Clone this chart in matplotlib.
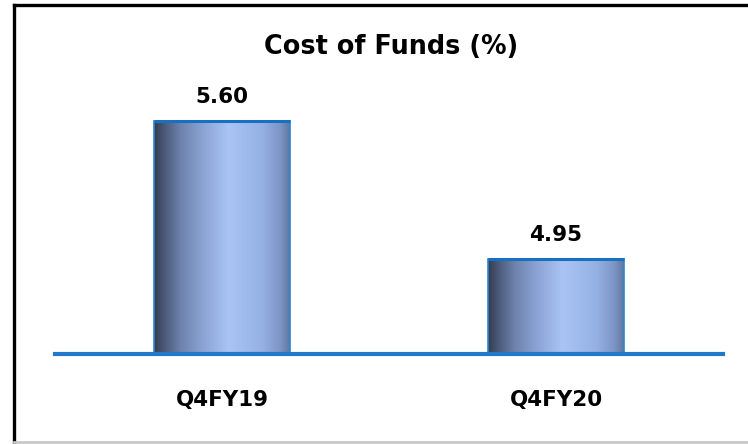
import numpy as np
import matplotlib.pyplot as plt
from matplotlib.colors import LinearSegmentedColormap
from matplotlib.lines import Line2D
from matplotlib.transforms import blended_transform_factory

categories = ['Q4FY19', 'Q4FY20']
cost_of_funds = [5.60, 4.95]
value_labels = ['5.60', '4.95']
title = 'Cost of Funds (%)'

plt.rcParams['font.family'] = ['DejaVu Sans']

fig = plt.figure(figsize=(7.48, 4.44), dpi=100)
fig.patch.set_facecolor('white')

# borde recortado: izquierda y arriba negro, abajo gris
fig.add_artist(Line2D([14 / 748, 14 / 748], [0.004, 1 - 5 / 444], color='black', lw=2.4,
                      transform=fig.transFigure, solid_capstyle='projecting'))
fig.add_artist(Line2D([14 / 748, 1.0], [1 - 5 / 444, 1 - 5 / 444], color='black', lw=2.4,
                      transform=fig.transFigure, solid_capstyle='projecting'))
fig.add_artist(Line2D([14 / 748, 1.0], [2 / 444, 2 / 444], color='#c8c8c8', lw=2,
                      transform=fig.transFigure))

ax_bottom = 1 - 354 / 444
ax_top = 1 - 30 / 444
ax = fig.add_axes([55 / 748, ax_bottom, (723 - 55) / 748, ax_top - ax_bottom])

ymin = 4.5
ymax = ymin + (354 - 30) / 212.0
ax.set_ylim(ymin, ymax)
ax.set_xlim(-0.5, 1.5)

grad_cmap = LinearSegmentedColormap.from_list('bar', [
    (0.0, '#343d50'),
    (0.07, '#4a5876'),
    (0.20, '#6e83ad'),
    (0.35, '#8aa2d2'),
    (0.55, '#a9c4f5'),
    (0.80, '#95b0e3'),
    (0.93, '#7d95c6'),
    (1.0, '#62789f'),
])
gradient = np.linspace(0, 1, 256).reshape(1, -1)

x = np.arange(len(categories))
bars = ax.bar(x, [v - ymin for v in cost_of_funds], width=0.405, bottom=ymin,
              color='none', edgecolor='#2a86d0', linewidth=1.2, zorder=3)

for bar, lab in zip(bars, value_labels):
    x0, y0 = bar.get_x(), bar.get_y()
    w, h = bar.get_width(), bar.get_height()
    im = ax.imshow(gradient, cmap=grad_cmap, aspect='auto',
                   extent=(x0, x0 + w, y0, y0 + h), zorder=2)
    im.set_clip_path(bar)
    # borde superior mas grueso
    ax.plot([x0, x0 + w], [y0 + h, y0 + h], color='#1a70c0', lw=2.2, zorder=4,
            solid_capstyle='butt')
    ax.text(x0 + w / 2, y0 + h + 18 / 212.0, lab, ha='center', va='baseline',
            fontsize=15.5, fontweight='bold', color='black')

ax.axhline(ymin, color='#1f78c8', lw=3, zorder=5, clip_on=False)

# etiquetas de categoria debajo de la linea base
trans = blended_transform_factory(ax.transData, ax.transAxes)
for xi, cat in zip(x, categories):
    ax.text(xi, -52 / 324, cat, transform=trans, ha='center', va='baseline',
            fontsize=15.4, fontweight='bold', color='black')

ax.set_xticks([])
ax.set_yticks([])
for s in ax.spines.values():
    s.set_visible(False)

fig.text(391 / 748, 1 - 54 / 444, title, ha='center', va='baseline',
         fontsize=18.4, fontweight='bold', color='black')

fig.savefig('out.png', dpi=100, facecolor='white')
